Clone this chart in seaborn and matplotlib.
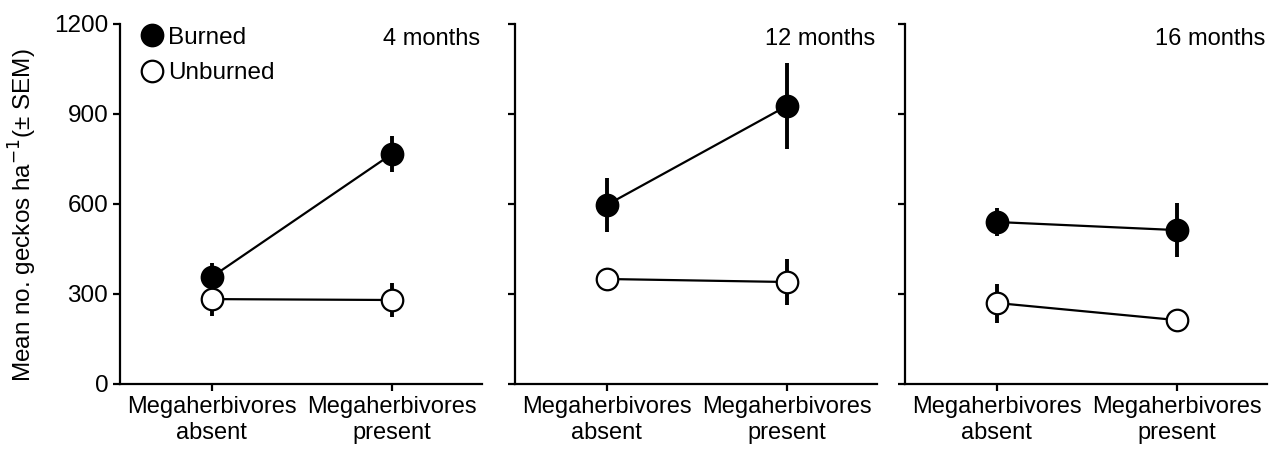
import numpy as np
import pandas as pd
import matplotlib
matplotlib.use("Agg")
import matplotlib.pyplot as plt
import seaborn as sns
from matplotlib.lines import Line2D

# data
panels = ["4 months", "12 months", "16 months"]
treatments = ["Megaherbivores\nabsent", "Megaherbivores\npresent"]
burned_mean = [[357, 767], [597, 927], [540, 513]]
burned_sem = [[48, 60], [90, 142], [48, 90]]
unburned_mean = [[283, 280], [350, 340], [270, 213]]
unburned_sem = [[55, 57], [30, 78], [65, 15]]
y_ticks = [0, 300, 600, 900, 1200]

sns.set_theme(style="ticks")
plt.rcParams["font.family"] = ["Liberation Sans", "DejaVu Sans"]
plt.rcParams["axes.linewidth"] = 1.6
plt.rcParams["xtick.major.width"] = 1.6
plt.rcParams["ytick.major.width"] = 1.6
plt.rcParams["xtick.major.size"] = 5
plt.rcParams["ytick.major.size"] = 5
for key in ["text.color", "axes.labelcolor", "xtick.color", "ytick.color", "axes.edgecolor"]:
    plt.rcParams[key] = "black"

fig = plt.figure(figsize=(12.69, 4.58), dpi=100)
lefts = [120 / 1269, 515 / 1269, 905 / 1269]
axes = [fig.add_axes([l, 74 / 458, 362 / 1269, 360 / 458]) for l in lefts]

rows = []
for p, name in enumerate(panels):
    for t in range(2):
        rows.append(dict(panel=name, x=t, group="Burned", mean=burned_mean[p][t], sem=burned_sem[p][t]))
        rows.append(dict(panel=name, x=t, group="Unburned", mean=unburned_mean[p][t], sem=unburned_sem[p][t]))
df = pd.DataFrame(rows)

face = {"Burned": "black", "Unburned": "white"}
msize = 15.5

for ax, name in zip(axes, panels):
    sub = df[df.panel == name]
    for grp in ["Unburned", "Burned"]:
        g = sub[sub.group == grp]
        ax.errorbar(g["x"], g["mean"], yerr=g["sem"], fmt="none", ecolor="black",
                    elinewidth=2.8, capsize=0, zorder=2)
        sns.lineplot(data=g, x="x", y="mean", ax=ax, color="black", linewidth=1.6,
                     marker="o", markersize=msize, markerfacecolor=face[grp],
                     markeredgecolor="black", markeredgewidth=1.6, zorder=3)
    ax.set_xlim(-0.51, 1.5)
    ax.set_ylim(0, 1200)
    ax.set_xticks([0, 1])
    ax.set_xticklabels(treatments, fontsize=17, linespacing=1.25)
    ax.set_yticks(y_ticks)
    ax.set_xlabel("")
    ax.set_ylabel("")
    ax.tick_params(axis="y", labelsize=17.5)
    ax.text(0.995, 0.99, name, transform=ax.transAxes, ha="right", va="top", fontsize=17)
    sns.despine(ax=ax)
    ax.spines["left"].set_bounds(0, 1200)

for ax in axes[1:]:
    ax.set_yticklabels([])

axes[0].set_ylabel("Mean no. geckos ha$^{-1}$(± SEM)", fontsize=17.5)
axes[0].yaxis.set_label_coords(-0.225, 0.47)

handles = [
    Line2D([], [], linestyle="none", marker="o", markersize=msize, markerfacecolor="black",
           markeredgecolor="black", markeredgewidth=1.6, label="Burned"),
    Line2D([], [], linestyle="none", marker="o", markersize=msize, markerfacecolor="white",
           markeredgecolor="black", markeredgewidth=1.6, label="Unburned"),
]
axes[0].legend(handles=handles, loc="upper left", bbox_to_anchor=(0.015, 1.04), frameon=False,
               fontsize=17.5, handlelength=0.8, handletextpad=0.25, labelspacing=0.55,
               borderaxespad=0.3)

fig.savefig("out.png", dpi=100)
